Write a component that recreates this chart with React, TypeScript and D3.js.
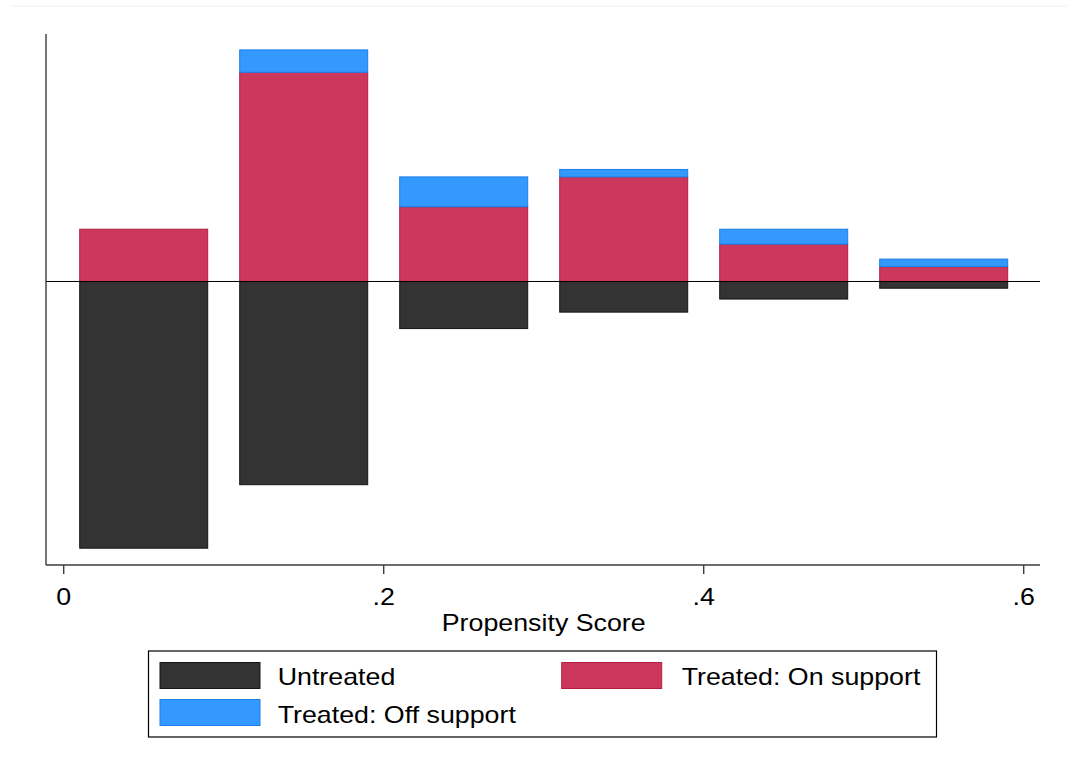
import React from "react";
import * as d3 from "d3";

// Histogram bins of the propensity score (lower edge of each bar)
const binStarts = [0.01, 0.11, 0.21, 0.31, 0.41, 0.51];
const binWidth = 0.08;

// Frequencies per bin
const untreated = [35.7, 27.2, 6.3, 4.1, 2.35, 0.9];
const treatedOnSupport = [7, 28, 10, 14, 5, 2];
const treatedOffSupport = [0, 3, 4, 1, 2, 1];

// X-axis ticks
const xTickValues = [0, 0.2, 0.4, 0.6];
const xTickLabels = ["0", ".2", ".4", ".6"];

const legendItems = [
  { label: "Untreated", key: "untreated" },
  { label: "Treated: On support", key: "on" },
  { label: "Treated: Off support", key: "off" },
];

const COLORS: Record<string, { fill: string; stroke: string }> = {
  untreated: { fill: "#333333", stroke: "#141414" },
  on: { fill: "#cc375c", stroke: "#b81e44" },
  off: { fill: "#3399ff", stroke: "#1a7fe8" },
};

const FONT = "Arial, 'Liberation Sans', Helvetica, sans-serif";
const SX = 1.155; // horizontal stretch of the lettering
const FS = 23.2;

const W = 1067;
const H = 770;

function SText({
  x,
  y,
  anchor = "start",
  size = FS,
  children,
}: {
  x: number;
  y: number;
  anchor?: "start" | "middle" | "end";
  size?: number;
  children: React.ReactNode;
}) {
  return (
    <text
      transform={`translate(${x},${y}) scale(${SX},1)`}
      textAnchor={anchor}
      fontFamily={FONT}
      fontSize={size}
      fill="#000"
    >
      {children}
    </text>
  );
}

export default function App() {
  const plotLeft = 46;
  const plotRight = 1040;
  const plotTop = 34;
  const plotBottom = 565;

  const x = d3
    .scaleLinear()
    .domain([0, 0.6])
    .range([63.7, 1023.7]);
  const y = d3.scaleLinear().domain([-37.95, 33.13]).range([plotBottom, plotTop]);

  const y0 = y(0);

  const bars = binStarts.map((s, i) => ({
    x0: x(s),
    x1: x(s + binWidth),
    u: untreated[i],
    on: treatedOnSupport[i],
    off: treatedOffSupport[i],
  }));

  return (
    <svg
      width={W}
      height={H}
      viewBox={`0 0 ${W} ${H}`}
      style={{ position: "absolute", left: 0, top: 0, display: "block", background: "#fff" }}
    >
      <rect x={0} y={0} width={W} height={H} fill="#ffffff" />
      <line x1={11} x2={W} y1={6} y2={6} stroke="#eaf0f0" strokeWidth={1.2} />

      {/* untreated bars below zero */}
      {bars.map((b, i) => (
        <rect
          key={`u${i}`}
          x={b.x0}
          y={y0}
          width={b.x1 - b.x0}
          height={y(-b.u) - y0}
          fill={COLORS.untreated.fill}
          stroke={COLORS.untreated.stroke}
          strokeWidth={1}
        />
      ))}

      {/* treated on support bars above zero */}
      {bars.map((b, i) => (
        <rect
          key={`on${i}`}
          x={b.x0}
          y={y(b.on)}
          width={b.x1 - b.x0}
          height={y0 - y(b.on)}
          fill={COLORS.on.fill}
          stroke={COLORS.on.stroke}
          strokeWidth={1}
        />
      ))}

      {/* treated off support stacked on top */}
      {bars.map((b, i) =>
        b.off > 0 ? (
          <rect
            key={`off${i}`}
            x={b.x0}
            y={y(b.on + b.off)}
            width={b.x1 - b.x0}
            height={y(b.on) - y(b.on + b.off)}
            fill={COLORS.off.fill}
            stroke={COLORS.off.stroke}
            strokeWidth={1}
          />
        ) : null
      )}

      {/* zero line */}
      <line x1={plotLeft} x2={plotRight} y1={y0} y2={y0} stroke="#000" strokeWidth={1} />

      {/* axes */}
      <line x1={plotLeft} x2={plotLeft} y1={plotTop} y2={plotBottom} stroke="#3c3c3c" strokeWidth={1.4} />
      <line x1={plotLeft} x2={plotRight} y1={plotBottom} y2={plotBottom} stroke="#3c3c3c" strokeWidth={1.4} />

      {xTickValues.map((v, i) => (
        <g key={`t${i}`}>
          <line x1={x(v)} x2={x(v)} y1={plotBottom} y2={plotBottom + 9} stroke="#3c3c3c" strokeWidth={1.4} />
          <SText x={x(v)} y={605} anchor="middle">
            {xTickLabels[i]}
          </SText>
        </g>
      ))}

      <SText x={(x(0.2) + x(0.4)) / 2} y={631} anchor="middle">
        Propensity Score
      </SText>

      {/* legend */}
      <rect x={148.5} y={651} width={788} height={86} fill="#fff" stroke="#000" strokeWidth={1.2} />
      {[
        { item: legendItems[0], sx: 160, sy: 662.5, tx: 277.7, ty: 685 },
        { item: legendItems[1], sx: 561.7, sy: 662.5, tx: 681.7, ty: 685 },
        { item: legendItems[2], sx: 160, sy: 699.5, tx: 277.7, ty: 723 },
      ].map(({ item, sx, sy, tx, ty }) => (
        <g key={item.key}>
          <rect
            x={sx}
            y={sy}
            width={100}
            height={26}
            fill={COLORS[item.key].fill}
            stroke={COLORS[item.key].stroke}
            strokeWidth={1}
          />
          <SText x={tx} y={ty}>
            {item.label}
          </SText>
        </g>
      ))}
    </svg>
  );
}
